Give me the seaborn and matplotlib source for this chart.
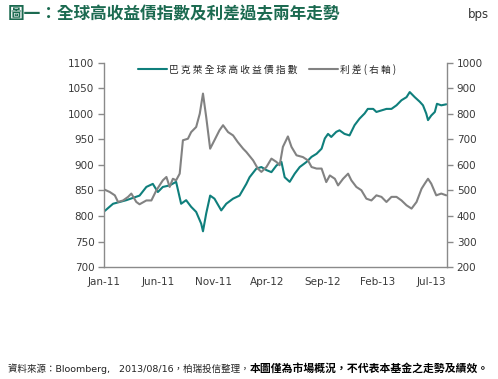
import matplotlib
matplotlib.use("Agg")
import matplotlib.pyplot as plt
import matplotlib.dates as mdates
import numpy as np
import pandas as pd
import seaborn as sns

# --- data ---
index_dates = [
    "2011-01-03", "2011-01-26", "2011-03-04", "2011-04-10", "2011-04-29", "2011-05-17",
    "2011-05-31", "2011-06-14", "2011-07-03", "2011-07-21", "2011-08-04", "2011-08-18",
    "2011-09-01", "2011-09-15", "2011-09-29", "2011-10-04", "2011-10-13", "2011-10-24",
    "2011-11-05", "2011-11-24", "2011-12-08", "2011-12-27", "2012-01-14", "2012-02-02",
    "2012-02-11", "2012-03-01", "2012-03-15", "2012-03-29", "2012-04-12", "2012-04-26",
    "2012-05-10", "2012-05-19", "2012-06-02", "2012-06-16", "2012-06-30", "2012-07-19",
    "2012-08-02", "2012-08-16", "2012-08-30", "2012-09-08", "2012-09-17", "2012-09-26",
    "2012-10-10", "2012-10-19", "2012-11-02", "2012-11-16", "2012-11-30", "2012-12-14",
    "2012-12-28", "2013-01-06", "2013-01-21", "2013-01-30", "2013-02-13", "2013-02-27",
    "2013-03-13", "2013-03-27", "2013-04-10", "2013-04-24", "2013-05-03", "2013-05-17",
    "2013-05-31", "2013-06-09", "2013-06-18", "2013-06-23", "2013-07-02", "2013-07-12",
    "2013-07-18", "2013-07-30", "2013-08-13",
]
index_values = [
    810, 824, 831, 840, 857, 863,
    847, 857, 860, 867, 824, 831,
    818, 808, 785, 770, 805, 840,
    834, 811, 824, 834, 840, 863,
    876, 893, 896, 890, 886, 899,
    906, 876, 867, 883, 896, 906,
    916, 922, 932, 952, 961, 955,
    965, 968, 961, 958, 978, 991,
    1001, 1010, 1010, 1004, 1007, 1010,
    1010, 1017, 1027, 1033, 1043, 1033,
    1024, 1017, 1001, 988, 997, 1004,
    1020, 1017, 1019,
]

spread_dates = [
    "2011-01-03", "2011-01-17", "2011-01-31", "2011-02-09", "2011-02-23", "2011-03-09",
    "2011-03-18", "2011-04-01", "2011-04-10", "2011-04-29", "2011-05-13", "2011-05-27",
    "2011-06-14", "2011-06-24", "2011-07-03", "2011-07-12", "2011-07-21", "2011-07-31",
    "2011-08-09", "2011-08-23", "2011-09-01", "2011-09-15", "2011-09-25", "2011-10-04",
    "2011-10-13", "2011-10-24", "2011-11-05", "2011-11-19", "2011-11-29", "2011-12-13",
    "2011-12-27", "2012-01-09", "2012-01-24", "2012-02-02", "2012-02-21", "2012-03-05",
    "2012-03-15", "2012-03-29", "2012-04-12", "2012-04-26", "2012-05-05", "2012-05-14",
    "2012-05-28", "2012-06-07", "2012-06-21", "2012-07-09", "2012-07-23", "2012-08-02",
    "2012-08-16", "2012-08-30", "2012-09-12", "2012-09-22", "2012-10-06", "2012-10-15",
    "2012-10-29", "2012-11-12", "2012-11-21", "2012-12-05", "2012-12-19", "2013-01-02",
    "2013-01-16", "2013-01-30", "2013-02-13", "2013-02-27", "2013-03-13", "2013-03-27",
    "2013-04-10", "2013-04-24", "2013-05-08", "2013-05-22", "2013-06-05", "2013-06-14",
    "2013-06-23", "2013-07-02", "2013-07-16", "2013-07-30", "2013-08-13",
]
spread_values = [
    503, 494, 481, 455, 461, 475,
    488, 455, 446, 461, 461, 501,
    540, 553, 514, 546, 540, 566,
    697, 703, 729, 749, 801, 880,
    788, 664, 697, 736, 756, 729,
    716, 690, 664, 651, 618, 586,
    573, 592, 625, 612, 599, 671,
    712, 671, 638, 631, 618, 592,
    586, 586, 533, 559, 546, 520,
    546, 566, 540, 514, 501, 468,
    461, 481, 475, 455, 475, 475,
    461, 442, 429, 455, 507, 527,
    546, 527, 481, 488, 481,
]

tick_dates = ["2011-01-01", "2011-06-01", "2011-11-01", "2012-04-01",
              "2012-09-01", "2013-02-01", "2013-07-01"]

index_label = "巴 克 萊 全 球 高 收 益 債 指 數"
spread_label = "利 差 ( 右 軸 )"

teal = "#0f7f7c"
grey = "#828282"
axis_col = "#8a8a8a"
txt_col = "#3a3a3a"

sns.set_style("white")
plt.rcParams["font.family"] = ["DejaVu Sans", "Noto Sans CJK TC"]

idx = pd.DataFrame({"date": pd.to_datetime(index_dates), "value": index_values})
spr = pd.DataFrame({"date": pd.to_datetime(spread_dates), "value": spread_values})

fig = plt.figure(figsize=(4.98, 3.79), dpi=100)
ax = fig.add_axes([0.209, 0.2955, 0.6886, 0.5383])
ax2 = ax.twinx()

sns.lineplot(data=idx, x="date", y="value", ax=ax, color=teal, lw=1.5, label=index_label, legend=False)
sns.lineplot(data=spr, x="date", y="value", ax=ax2, color=grey, lw=1.5, label=spread_label, legend=False)

ax.set_xlim(pd.Timestamp("2011-01-01"), pd.Timestamp("2013-08-15"))
ax.set_ylim(700, 1100)
ax.set_yticks(np.arange(700, 1101, 50))
ax2.set_ylim(200, 1000)
ax2.set_yticks(np.arange(200, 1001, 100))
ax.set_xticks(pd.to_datetime(tick_dates))
ax.xaxis.set_major_formatter(mdates.DateFormatter("%b-%y"))
ax.set_xlabel("")
ax.set_ylabel("")
ax2.set_ylabel("")

for a in (ax, ax2):
    for s in a.spines.values():
        s.set_color(axis_col)
        s.set_linewidth(1.0)
    a.spines["top"].set_visible(False)
    a.set_facecolor("none")
ax.spines["right"].set_visible(False)
ax2.spines["left"].set_visible(False)
ax2.spines["bottom"].set_visible(False)

ax.tick_params(axis="y", direction="out", length=4, width=1, color=axis_col,
               labelsize=7.5, labelcolor=txt_col, pad=3)
ax.tick_params(axis="x", direction="inout", length=6, width=1, color=axis_col,
               labelsize=7.5, labelcolor=txt_col, pad=4)
ax2.tick_params(axis="y", direction="out", length=4, width=1, color=axis_col,
                labelsize=7.5, labelcolor=txt_col, pad=3)

h1, l1 = ax.get_legend_handles_labels()
h2, l2 = ax2.get_legend_handles_labels()
leg = ax2.legend(h1 + h2, l1 + l2, loc="upper center", bbox_to_anchor=(0.475, 1.04),
                 ncol=2, frameon=False, handlelength=3.0, handletextpad=0.2,
                 columnspacing=1.2, prop={"family": ["Noto Sans CJK TC"], "size": 7})

fig.text(0.016, 0.962, "圖一：全球高收益債指數及利差過去兩年走勢", color="#1b6a50",
         fontsize=12, fontweight="bold", family=["Noto Sans CJK TC"], va="center")
fig.text(0.94, 0.962, "bps", color="#333333", fontsize=8.5, va="center")

# footer: plain part, then bold part placed right after it
foot1 = fig.text(0.016, 0.028, "資料來源：Bloomberg,   2013/08/16，柏瑞投信整理，", color="#222222",
                 fontsize=6.8, family=["DejaVu Sans", "Noto Sans CJK TC"], va="center")
fig.canvas.draw()
bb = foot1.get_window_extent()
fig.text(bb.x1 / fig.bbox.width, 0.028, "本圖僅為市場概況，不代表本基金之走勢及績效。",
         color="#000000", fontsize=7.8, fontweight="bold", family=["Noto Sans CJK TC"], va="center")

fig.savefig("out.png", dpi=100)
